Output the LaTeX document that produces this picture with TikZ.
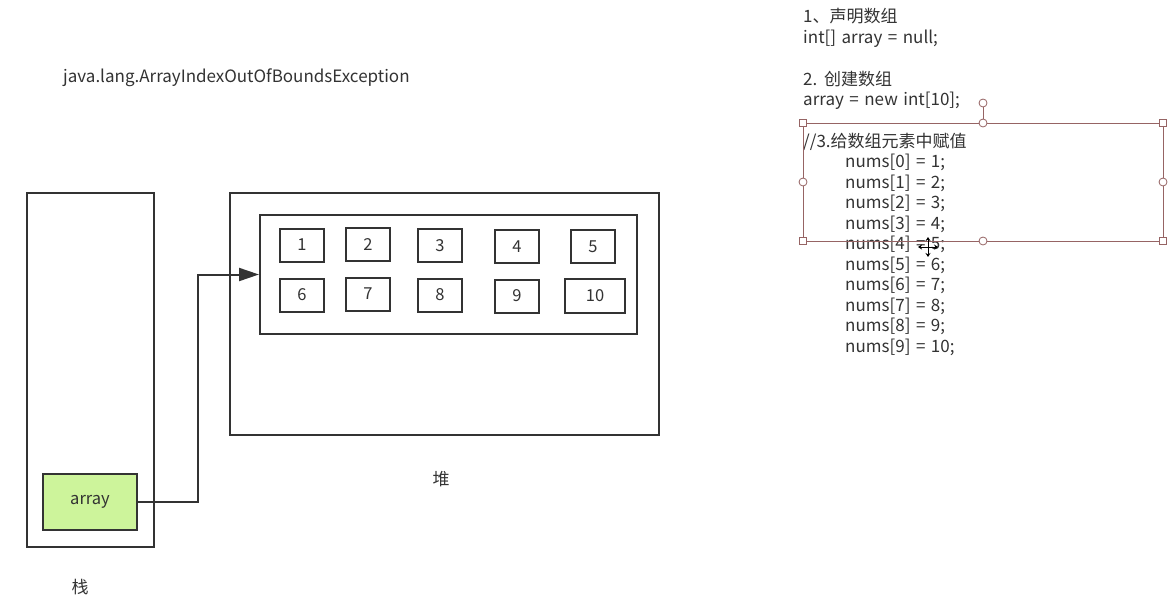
\documentclass[tikz,border=0pt]{standalone}
\usepackage{fontspec}
\setmainfont{Noto Sans CJK SC}
\usetikzlibrary{arrows.meta}
\definecolor{ink}{HTML}{333333}
\definecolor{leaf}{RGB}{205,244,155}
\definecolor{selc}{RGB}{150,100,100}
\newcommand{\mycodefont}{\fontsize{17}{20}\selectfont\spaceskip=5.5pt plus 1pt\relax}
\begin{document}
\begin{tikzpicture}[x=1pt,y=-1pt,
  box/.style={draw=ink, line width=2pt, inner sep=0pt, text=ink, font=\fontsize{16.5}{18}\selectfont},
  cell/.style={box, minimum width=44pt, minimum height=33pt},
  lbl/.style={text=ink, font=\fontsize{17}{20}\selectfont, inner sep=0pt},
  code/.style={lbl, anchor=base west, font=\mycodefont},
  conn/.style={draw=ink, line width=2pt},
  sel/.style={draw=selc, line width=0.8pt},
  sqh/.style={sel, fill=white, rectangle, minimum size=7pt, inner sep=0pt},
  cih/.style={sel, fill=white, circle, minimum size=8pt, inner sep=0pt}]
\useasboundingbox (0,0) rectangle (1175,613);
\fill[white] (0,0) rectangle (1175,613);

% title
\node[code] (exc) at (63,82) {java.lang.ArrayIndexOutOfBoundsException};

% stack
\node[box, minimum width=127pt, minimum height=354pt] (stack) at (90.5,370) {};
\node[box, fill=leaf, minimum width=94pt, minimum height=56pt] (arr) at (90,502) {array};
\node[lbl] (zhan) at (80,587) {栈};

% heap
\node[box, minimum width=429pt, minimum height=242pt] (heap) at (444.5,314) {};
\node[box, minimum width=377pt, minimum height=119pt] (inner) at (448.5,274.5) {};
\node[lbl] (dui) at (441,479) {堆};

\node[cell] (c1) at (302,245) {1};
\node[cell] (c2) at (368,244.5) {2};
\node[cell] (c3) at (440,245.5) {3};
\node[cell] (c4) at (517,246.5) {4};
\node[cell] (c5) at (593,246.5) {5};
\node[cell] (c6) at (302,295) {6};
\node[cell] (c7) at (368,294) {7};
\node[cell] (c8) at (440,295) {8};
\node[cell] (c9) at (517,296) {9};
\node[cell, minimum width=60pt, minimum height=34pt] (c10) at (595,296) {10};

% connector
\coordinate (bend) at (198,502);
\draw[conn, -{Triangle[length=20pt,width=13pt]}] (arr.east) -- (bend) |- (inner.west);

% code text
\node[code] (t1) at (803,22.5) {1、声明数组};
\node[code] (t2) at (803,43) {int[] array = null;};
\node[code] (t3) at (803,85) {2. 创建数组};
\node[code] (t4) at (803,105.5) {array = new int[10];};
\node[code] (t5) at (803,147) {//3.给数组元素中赋值};
\foreach \i [evaluate=\i as \yy using 167.5+20.5*\i, evaluate=\i as \v using int(\i+1)] in {0,...,9}
  \node[code] (n\i) at (845,\yy) {nums[\i] = \v;};

% selection frame
\draw[sel] (803,123) rectangle (1163,241);
\node[cih] (tm) at (983,123) {};
\node[cih] (rot) at (983,103) {};
\draw[sel] (rot) -- (tm);
\node[cih] (bm) at (983,241) {};
\node[cih] (lm) at (803,182) {};
\node[cih] (rm) at (1163,182) {};
\node[sqh] (tl) at (803,123) {};
\node[sqh] (tr) at (1163,123) {};
\node[sqh] (bl) at (803,241) {};
\node[sqh] (br) at (1163,241) {};

% move cursor
\coordinate (mv) at (928,247);
\draw[black, line width=1pt, {Stealth[length=4pt,width=5pt]}-{Stealth[length=4pt,width=5pt]}] ([xshift=-10pt]mv) -- ([xshift=10pt]mv);
\draw[black, line width=1pt, {Stealth[length=4pt,width=5pt]}-{Stealth[length=4pt,width=5pt]}] ([yshift=-10pt]mv) -- ([yshift=10pt]mv);
\end{tikzpicture}
\end{document}
